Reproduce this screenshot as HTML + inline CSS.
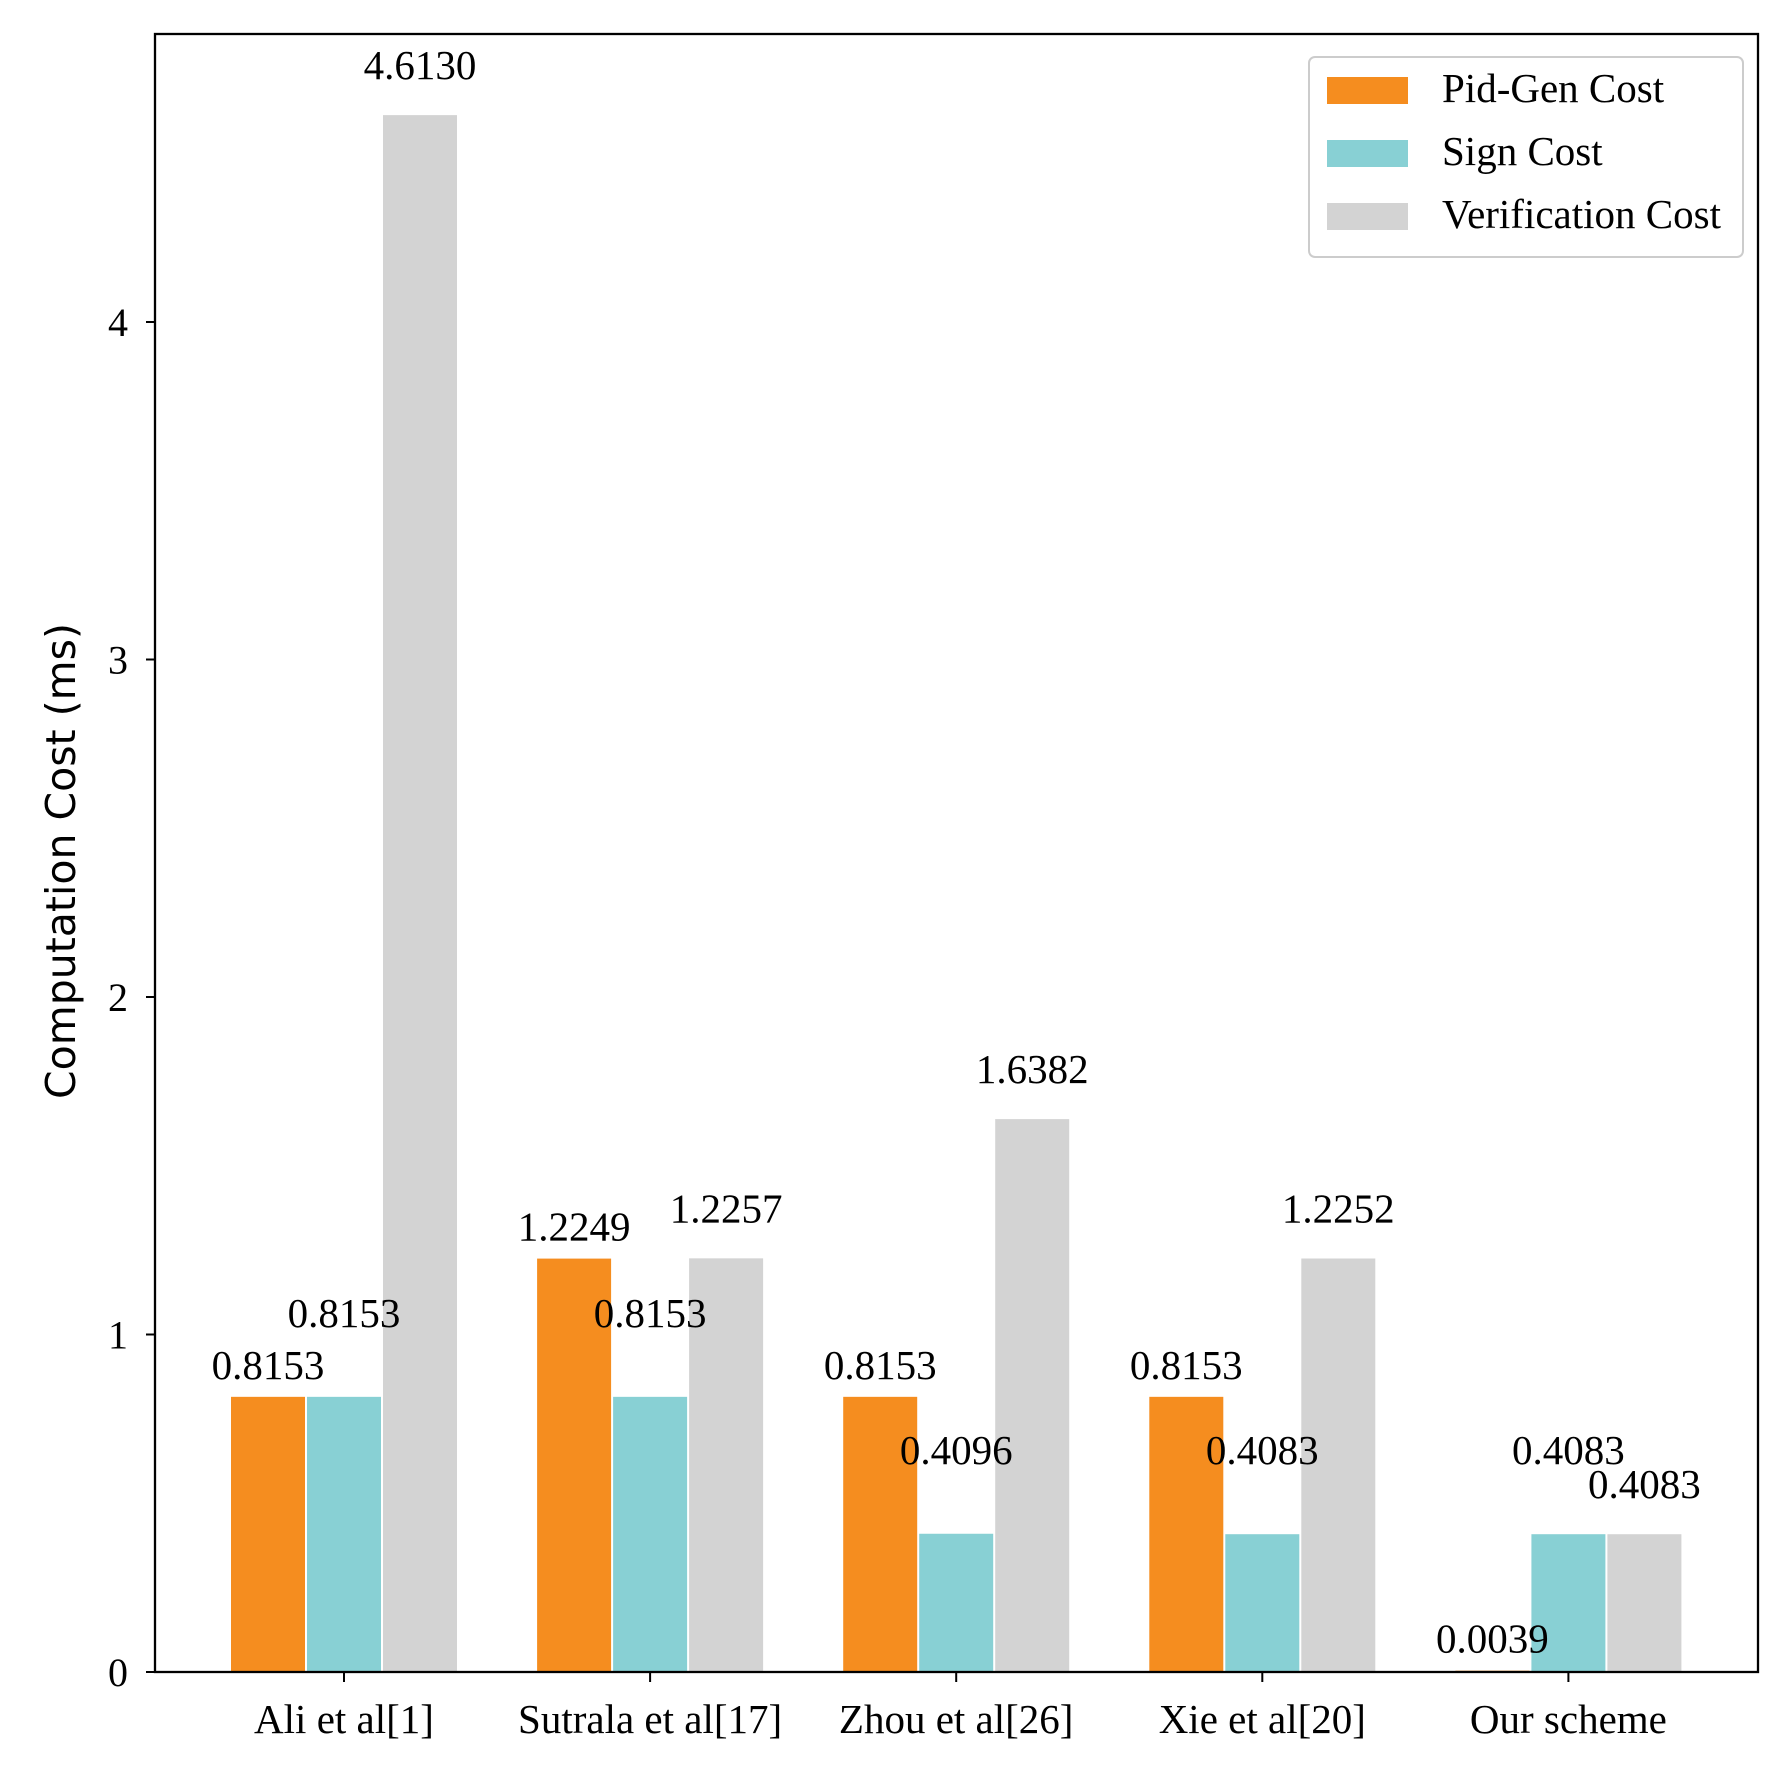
<!DOCTYPE html>
<html><head><meta charset="utf-8"><style>
html,body{margin:0;padding:0;background:#fff;}
svg{display:block;}
.serif{font-family:"Liberation Serif",serif;fill:#000;}
</style></head><body>
<svg id="chart" width="1780" height="1780" viewBox="0 0 1780 1780" xmlns="http://www.w3.org/2000/svg">
<g id="bars"></g>
<g id="labels"></g>
<rect x="155" y="34" width="1603" height="1638" fill="none" stroke="#000" stroke-width="2.3"/>
<g id="axes"></g>
<text transform="translate(75,861) rotate(-90)" text-anchor="middle" font-family="DejaVu Sans, sans-serif" font-size="41" fill="#000">Computation Cost (ms)</text>
<g>
<rect x="1309" y="57" width="434" height="200" rx="6" fill="#fff" stroke="#ccc" stroke-width="2"/>
<g><rect x="1327" y="77" width="81" height="27" fill="#f58d1f"/><text class="serif" x="1442" y="102" font-size="41">Pid-Gen Cost</text></g>
<g><rect x="1327" y="140" width="81" height="27" fill="#88d0d4"/><text class="serif" x="1442" y="165" font-size="41">Sign Cost</text></g>
<g><rect x="1327" y="203" width="81" height="27" fill="#d3d3d3"/><text class="serif" x="1442" y="228" font-size="41">Verification Cost</text></g>
</g>
</svg>
<script>
const categories = ["Ali et al[1]", "Sutrala et al[17]", "Zhou et al[26]", "Xie et al[20]", "Our scheme"];
const pidGen = [0.8153, 1.2249, 0.8153, 0.8153, 0.0039];
const sign = [0.8153, 0.8153, 0.4096, 0.4083, 0.4083];
const verification = [4.6130, 1.2257, 1.6382, 1.2252, 0.4083];
const pidLabels = ["0.8153", "1.2249", "0.8153", "0.8153", "0.0039"];
const signLabels = ["0.8153", "0.8153", "0.4096", "0.4083", "0.4083"];
const verLabels = ["4.6130", "1.2257", "1.6382", "1.2252", "0.4083"];
const yTicks = [0, 1, 2, 3, 4];

const NS = "http://www.w3.org/2000/svg";
const y0 = 1672, unit = 337.5;
const yScale = v => y0 - v * unit;
const xCenter = i => 344 + i * 306.1;
const bw = 76;
const series = [
  {vals: pidGen, labels: pidLabels, color: "#f58d1f", off: -1, dy: 30, name: "pid-gen"},
  {vals: sign, labels: signLabels, color: "#88d0d4", off: 0, dy: 82, name: "sign"},
  {vals: verification, labels: verLabels, color: "#d3d3d3", off: 1, dy: 48, name: "verification"}
];
const gb = document.getElementById("bars"), gl = document.getElementById("labels"), ga = document.getElementById("axes");
series.forEach(s => {
  s.vals.forEach((v, i) => {
    const cx = xCenter(i) + s.off * bw;
    const r = document.createElementNS(NS, "rect");
    r.setAttribute("x", cx - bw / 2 + 1);
    r.setAttribute("width", bw - 2);
    r.setAttribute("y", yScale(v));
    r.setAttribute("height", y0 - yScale(v));
    r.setAttribute("fill", s.color);
    
    
    gb.appendChild(r);
    const t = document.createElementNS(NS, "text");
    t.setAttribute("x", cx);
    t.setAttribute("y", yScale(v) - s.dy + 12);
    t.setAttribute("text-anchor", "middle");
    t.setAttribute("class", "serif");
    t.setAttribute("font-size", "41");
    t.textContent = s.labels[i];
    
    
    gl.appendChild(t);
  });
});
yTicks.forEach(v => {
  const l = document.createElementNS(NS, "line");
  l.setAttribute("x1", 146); l.setAttribute("x2", 155);
  l.setAttribute("y1", yScale(v)); l.setAttribute("y2", yScale(v));
  l.setAttribute("stroke", "#000"); l.setAttribute("stroke-width", "2");
  
  
  ga.appendChild(l);
  const t = document.createElementNS(NS, "text");
  t.setAttribute("x", 128); t.setAttribute("y", yScale(v) + 14);
  t.setAttribute("text-anchor", "end"); t.setAttribute("class", "serif");
  t.setAttribute("font-size", "40");
  t.textContent = v;
  
  
  ga.appendChild(t);
});
categories.forEach((c, i) => {
  const l = document.createElementNS(NS, "line");
  l.setAttribute("x1", xCenter(i)); l.setAttribute("x2", xCenter(i));
  l.setAttribute("y1", y0); l.setAttribute("y2", y0 + 10);
  l.setAttribute("stroke", "#000"); l.setAttribute("stroke-width", "2");
  
  
  ga.appendChild(l);
  const t = document.createElementNS(NS, "text");
  t.setAttribute("x", xCenter(i)); t.setAttribute("y", 1733);
  t.setAttribute("text-anchor", "middle"); t.setAttribute("class", "serif");
  t.setAttribute("font-size", "41");
  t.textContent = c;
  
  
  ga.appendChild(t);
});
</script>
</body></html>
